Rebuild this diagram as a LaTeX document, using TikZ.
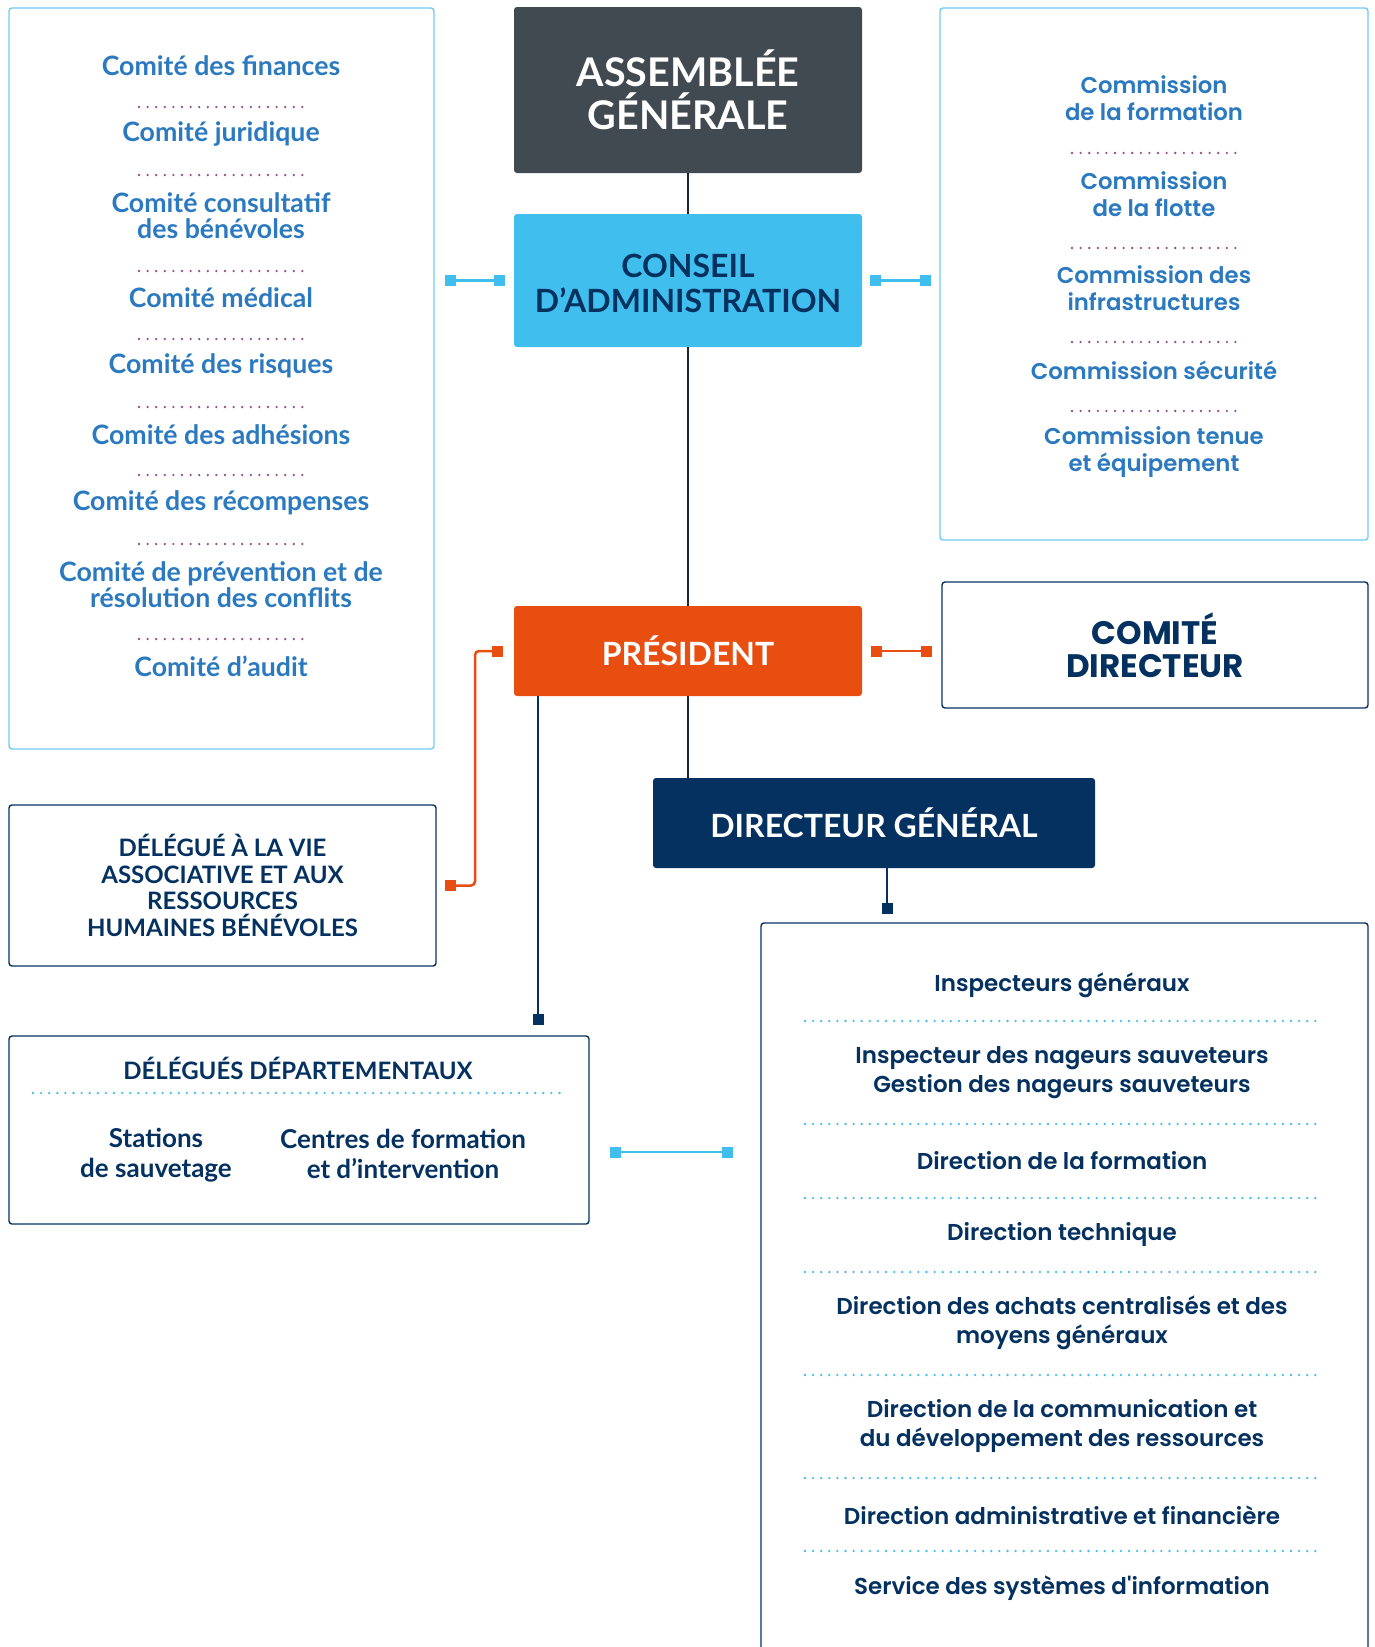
\documentclass[tikz,border=0pt]{standalone}
\usepackage{fontspec}
\setmainfont{Lato}
\newfontfamily\geo{Poppins}[BoldFont={Poppins SemiBold}]
\newfontfamily\geoheavy{Poppins Bold}
\usetikzlibrary{arrows.meta}

\definecolor{agcol}{HTML}{414A50}
\definecolor{cacol}{HTML}{40BFEF}
\definecolor{navy}{HTML}{04315F}
\definecolor{orangecol}{HTML}{E84E0F}
\definecolor{bluetext}{HTML}{2B79BF}
\definecolor{dotpurple}{HTML}{9C4F88}
\definecolor{dotblue}{HTML}{40BFEF}
\definecolor{lightborder}{HTML}{6ECBF0}
\definecolor{darkline}{HTML}{1B2631}

\tikzset{
  sq/.tip={Square[length=11pt,width=11pt]},
  headbox/.style={rounded corners=3pt, minimum width=348pt, align=center, inner sep=0pt, outer sep=0pt},
  lightbox/.style={draw=lightborder, line width=1.4pt, rounded corners=3pt, inner sep=0pt, outer sep=0pt},
  navybox/.style={draw=navy, line width=1.4pt, rounded corners=3pt, align=center, inner sep=0pt, outer sep=0pt},
  comtext/.style={text=bluetext, align=center, font=\bfseries\fontsize{26.7}{26}\selectfont},
  cmtext/.style={text=bluetext, align=center, font=\geo\bfseries\fontsize{22.8}{27}\selectfont},
  dgtext/.style={text=navy, align=center, font=\geo\bfseries\fontsize{23}{29}\selectfont},
  depttext/.style={text=navy, align=center, font=\bfseries\fontsize{26}{30}\selectfont},
  purpledots/.style={draw=dotpurple, line width=2.6pt, line cap=round, dash pattern=on 0pt off 8.6pt},
  bluedots/.style={draw=dotblue, line width=2.6pt, line cap=round, dash pattern=on 0pt off 8.1pt},
  mainline/.style={draw=darkline, line width=2.5pt},
  cyanlink/.style={draw=cacol, line width=2.5pt, sq-sq},
  orangelink/.style={draw=orangecol, line width=2.5pt, sq-sq},
  navylink/.style={draw=navy, line width=2.5pt, -sq}
}

\begin{document}
\begin{tikzpicture}[x=1pt,y=-1pt]
\useasboundingbox (0,0) rectangle (1375,1647);

% main chain
\node[headbox, fill=agcol, text=white, minimum height=166pt, font=\bfseries\fontsize{39.5}{43}\selectfont] (ag) at (688,90) {ASSEMBLÉE\\GÉNÉRALE};
\node[headbox, fill=cacol, minimum height=133pt] (ca) at (688,280.5) {};
\node[text=navy, align=center, font=\bfseries\fontsize{32}{35}\selectfont] (catext) at (688,283.5) {CONSEIL\\D’ADMINISTRATION};
\node[headbox, fill=orangecol, text=white, minimum height=90pt, font=\bfseries\fontsize{32}{35}\selectfont] (pres) at (688,651) {PRÉSIDENT};
\node[headbox, fill=navy, text=white, minimum width=442pt, minimum height=90pt, font=\bfseries\fontsize{32}{35}\selectfont] (dg) at (874,823) {DIRECTEUR GÉNÉRAL};

% side boxes
\node[lightbox, minimum width=425pt, minimum height=741pt] (comites) at (221.5,378.5) {};
\node[lightbox, minimum width=428pt, minimum height=532pt] (cm) at (1154,274) {};
\node[navybox, minimum width=426pt, minimum height=126pt, text=navy, font=\geoheavy\fontsize{32.5}{33}\selectfont] (cd) at (1155,645) {COMITÉ\\DIRECTEUR};
\node[navybox, minimum width=427pt, minimum height=161pt, text=navy, font=\bfseries\fontsize{24}{26.5}\selectfont] (dv) at (222.5,885.5) {DÉLÉGUÉ À LA VIE\\ASSOCIATIVE ET AUX\\RESSOURCES\\HUMAINES BÉNÉVOLES};
\node[navybox, minimum width=580pt, minimum height=188pt] (dept) at (299,1130) {};
\node[navybox, minimum width=607pt, minimum height=777pt] (list) at (1064.5,1311.5) {};

% comites
\foreach \y/\txt [count=\i] in {66/Comité des finances, 134/Comité juridique,
    {216/Comité consultatif\\des bénévoles}, 298/Comité médical, 366/Comité des risques,
    435/Comité des adhésions, 503/Comité des récompenses,
    {585/Comité de prévention et de\\résolution des conflits}, 666/Comité d’audit}
  \node[comtext] (com\i) at (221,\y) {\txt};
\foreach \y in {107,175,271,339,407,475,544,639}
  \draw[purpledots] (139,\y) -- (303,\y);

% commissions
\foreach \y/\txt [count=\i] in {{98.5/Commission\\de la formation}, {194.5/Commission\\de la flotte},
    {288.5/Commission des\\infrastructures}, 370/Commission sécurité, {452/Commission tenue\\et équipement}}
  \node[cmtext] (cm\i) at (1154,\y) {\txt};
\foreach \y in {153,248,342,411}
  \draw[purpledots] (1072,\y) -- (1236,\y);

% delegues departementaux
\node[depttext, font=\bfseries\fontsize{24}{26}\selectfont] (depttitle) at (298,1068) {DÉLÉGUÉS DÉPARTEMENTAUX};
\draw[bluedots] (33,1093) -- (560,1093);
\node[depttext] (stations) at (156,1155) {Stations\\de sauvetage};
\node[depttext] (centres) at (403,1154) {Centres de formation\\et d’intervention};

% services du DG
\foreach \y/\txt [count=\i] in {985/Inspecteurs généraux,
    {1072.5/Inspecteur des nageurs sauveteurs\\Gestion des nageurs sauveteurs},
    1161/Direction de la formation, 1235/Direction technique,
    {1323/Direction des achats centralisés et des\\moyens généraux},
    {1426.5/Direction de la communication et\\du développement des ressources},
    1515/Direction administrative et financière,
    1588/Service des systèmes d\textquotesingle information}
  \node[dgtext] (srv\i) at (1062,\y) {\txt};
\foreach \y in {1021,1124,1198,1272,1375,1478,1551}
  \draw[bluedots] (805,\y) -- (1323,\y);

% links
\draw[mainline] (ag.south) -- (ca.north);
\draw[mainline] (ca.south) -- (pres.north);
\draw[mainline] (pres.south) -- (pres.south |- dg.north);
\draw[cyanlink, shorten <=11pt, shorten >=9pt] (comites.east |- ca.west) -- (ca.west);
\draw[cyanlink, shorten <=8pt, shorten >=9pt] (ca.east) -- (ca.east -| cm.west);
\draw[orangelink, shorten <=9pt, shorten >=10pt] (pres.east) -- (pres.east -| cd.west);
\draw[orangelink, rounded corners=4pt, shorten <=11pt, shorten >=9pt] (pres.west) -- ++(-39,0) |- (dv.east);
\coordinate (pl) at ([xshift=24pt]pres.south west);
\draw[navylink, shorten >=11pt] (pl) -- (pl |- dept.north);
\coordinate (dgl) at ([xshift=13pt]dg.south);
\draw[navylink, shorten >=9pt] (dgl) -- (dgl |- list.north);
\coordinate (dlink) at (0,1152);
\draw[cyanlink, shorten <=21pt, shorten >=28pt] (dept.east |- dlink) -- (list.west |- dlink);
\end{tikzpicture}
\end{document}
